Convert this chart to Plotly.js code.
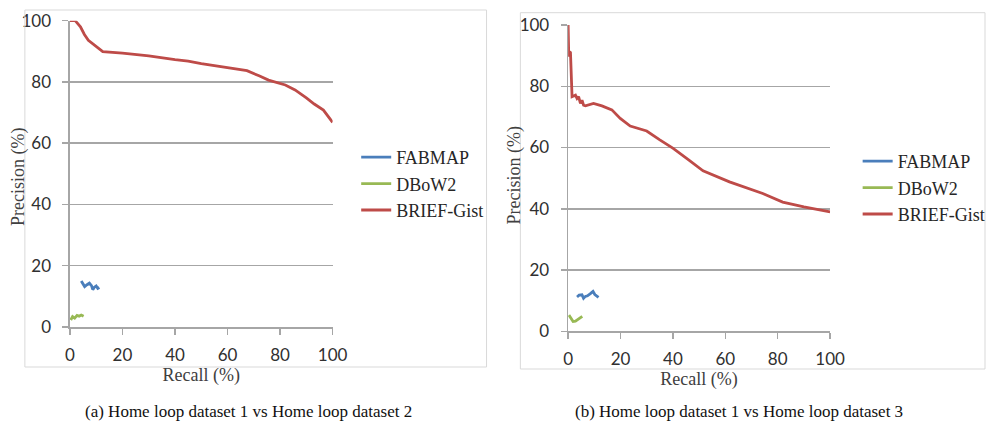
<!DOCTYPE html>
<html><head><meta charset="utf-8">
<script src="https://cdn.plot.ly/plotly-3.0.1.min.js"></script>
<style>html,body{margin:0;padding:0;background:#fff}#chart{width:991px;height:433px}</style>
</head><body><div id="chart"></div>
<script>
const seriesNames = ['FABMAP', 'DBoW2', 'BRIEF-Gist'];
const seriesColors = ['#4A7EBB', '#98B954', '#BE4B48'];
const tickValues = [0, 20, 40, 60, 80, 100];
const xTitle = 'Recall (%)';
const yTitle = 'Precision (%)';
const captionA = '(a) Home loop dataset 1 vs Home loop dataset 2';
const captionB = '(b) Home loop dataset 1 vs Home loop dataset 3';

// Panel (a)
const aFabRecall = [4.3, 5.0, 5.6, 6.5, 7.4, 8.2, 8.7, 9.3, 10.0, 10.6, 11.2];
const aFabPrecision = [15.0, 14.0, 13.2, 13.8, 14.3, 13.5, 12.2, 13.0, 13.4, 12.6, 12.9];
const aDbowRecall = [0.3, 1.0, 1.8, 2.7, 3.5, 4.3, 5.2];
const aDbowPrecision = [2.3, 3.4, 2.9, 3.8, 3.5, 3.9, 3.5];
const aBriefRecall = [0, 2, 4, 5.5, 7, 9.5, 12.5, 20, 30, 40, 45, 50, 60, 67.4, 72, 75.6, 82, 85.7, 90, 93, 96.5, 98.5, 100];
const aBriefPrecision = [100, 100, 98, 95.5, 93.6, 92, 89.9, 89.4, 88.5, 87.3, 86.8, 86, 84.7, 83.7, 82, 80.6, 79, 77.4, 74.8, 72.8, 70.8, 68.7, 66.8];

// Panel (b)
const bFabRecall = [3.4, 4.2, 5.3, 5.9, 6.6, 7.4, 8.5, 9.5, 10.2, 10.8, 11.6];
const bFabPrecision = [11.2, 11.8, 11.9, 10.8, 11.4, 11.6, 12.3, 13.0, 12.0, 11.6, 11.1];
const bDbowRecall = [0.3, 1.0, 1.9, 2.8, 3.6, 4.6, 5.4];
const bDbowPrecision = [5.3, 4.3, 3.2, 3.3, 3.8, 4.2, 4.9];
const bBriefRecall = [0, 0.25, 0.6, 0.9, 1.5, 2.8, 3.4, 4.0, 4.7, 5.3, 5.9, 6.6, 9.7, 12.9, 16.7, 19.9, 23.7, 30, 35, 40.1, 46, 51.5, 61.6, 74.3, 81.9, 90, 100];
const bBriefPrecision = [100, 89.7, 91.3, 91.0, 76.6, 77.1, 76.0, 76.6, 74.4, 75.5, 73.8, 73.6, 74.4, 73.6, 72.3, 69.5, 67.0, 65.4, 62.5, 59.7, 56, 52.4, 48.8, 45.0, 42.2, 40.6, 39.0];

const W = 991, H = 433;
const px = v => v / W;
const py = v => 1 - v / H;

function mk(x, y, i, xa, ya, lg) {
  return {x: x, y: y, type: 'scatter', mode: 'lines', name: seriesNames[i],
    line: {color: seriesColors[i], width: 2.8}, xaxis: xa, yaxis: ya,
    legend: lg, showlegend: true, hoverinfo: 'skip'};
}

const traces = [
  mk(aFabRecall, aFabPrecision, 0, 'x', 'y', 'legend'),
  mk(aDbowRecall, aDbowPrecision, 1, 'x', 'y', 'legend'),
  mk(aBriefRecall, aBriefPrecision, 2, 'x', 'y', 'legend'),
  mk(bFabRecall, bFabPrecision, 0, 'x2', 'y2', 'legend2'),
  mk(bDbowRecall, bDbowPrecision, 1, 'x2', 'y2', 'legend2'),
  mk(bBriefRecall, bBriefPrecision, 2, 'x2', 'y2', 'legend2')
];

const gray = '#A6A6A6';
const tickFont = {family: 'Lato, "Open Sans", sans-serif', size: 17, color: '#303030'};
const titleFont = {family: '"Liberation Serif", serif', size: 18, color: '#404040'};

function xax(dom, anchor) {
  return {domain: dom, range: [0, 100], tickvals: tickValues, showgrid: false, zeroline: false,
    showline: true, linecolor: gray, linewidth: 1.5, ticks: 'outside', ticklen: 6, tickcolor: gray, tickwidth: 1.5,
    tickfont: tickFont, ticklabelstandoff: 6, anchor: anchor, fixedrange: true,
    title: {text: xTitle, font: titleFont, standoff: 4}};
}
function yax(dom, anchor) {
  return {domain: dom, range: [0, 100], tickvals: tickValues, showgrid: true, gridcolor: gray, gridwidth: 1.5, zeroline: false,
    showline: true, linecolor: gray, linewidth: 1.5, ticks: 'outside', ticklen: 6, tickcolor: gray, tickwidth: 1.5,
    tickfont: tickFont, ticklabelstandoff: 8, anchor: anchor, fixedrange: true};
}

const legendFont = {family: '"Liberation Serif", serif', size: 18, color: '#262626'};
const captionFont = {family: '"Liberation Serif", serif', size: 17, color: '#111'};

function yTitleAnn(xc, yc) {
  return {text: yTitle, xref: 'paper', yref: 'paper', x: px(xc), y: py(yc), xanchor: 'center', yanchor: 'middle',
    textangle: -90, showarrow: false, font: titleFont};
}

const layout = {
  width: W, height: H,
  margin: {l: 0, r: 0, t: 0, b: 0},
  paper_bgcolor: '#fff', plot_bgcolor: '#fff',
  showlegend: true,
  xaxis: xax([px(70.3), px(334.3)], 'y'),
  yaxis: yax([py(327), py(20.7)], 'x'),
  xaxis2: xax([px(571), px(834.3)], 'y2'),
  yaxis2: yax([py(331.3), py(25)], 'x2'),
  legend: {x: px(358), y: py(139), xanchor: 'left', yanchor: 'top', font: legendFont, bgcolor: 'rgba(0,0,0,0)', tracegroupgap: 0},
  legend2: {x: px(862), y: py(143), xanchor: 'left', yanchor: 'top', font: legendFont, bgcolor: 'rgba(0,0,0,0)', tracegroupgap: 0},
  shapes: [
    {type: 'rect', xref: 'paper', yref: 'paper', x0: px(25), x1: px(489), y0: py(367), y1: py(10), line: {color: '#D9D9D9', width: 1}},
    {type: 'rect', xref: 'paper', yref: 'paper', x0: px(523), x1: px(990), y0: py(369), y1: py(12.7), line: {color: '#D9D9D9', width: 1}}
  ],
  annotations: [
    yTitleAnn(18, 177),
    yTitleAnn(518, 175),
    {text: captionA, xref: 'paper', yref: 'paper', x: px(250), y: py(411), xanchor: 'center', yanchor: 'middle', showarrow: false, font: captionFont},
    {text: captionB, xref: 'paper', yref: 'paper', x: px(743), y: py(411), xanchor: 'center', yanchor: 'middle', showarrow: false, font: captionFont}
  ]
};

Plotly.newPlot('chart', traces, layout, {displayModeBar: false, staticPlot: true});
</script>
</body></html>
